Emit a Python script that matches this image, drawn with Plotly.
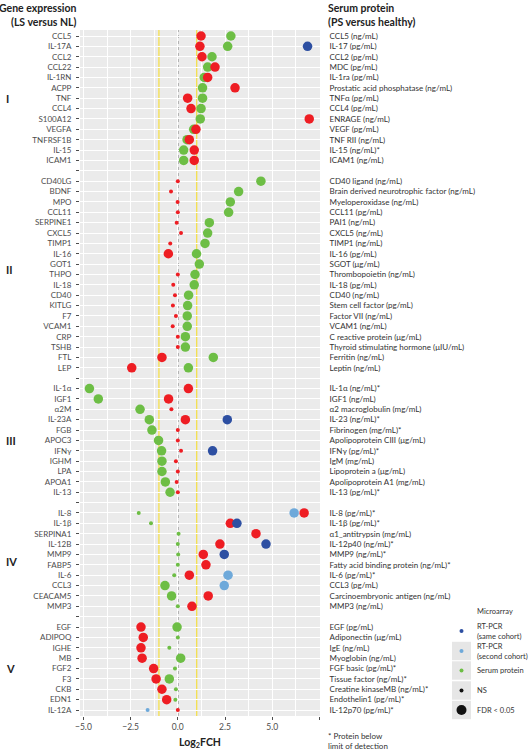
import plotly.graph_objects as go

# ---------------- data ----------------
gene_labels = [
    "CCL5", "IL-17A", "CCL2", "CCL22", "IL-1RN", "ACPP", "TNF", "CCL4", "S100A12", "VEGFA",
    "TNFRSF1B", "IL-15", "ICAM1", "",
    "CD40LG", "BDNF", "MPO", "CCL11", "SERPINE1", "CXCL5", "TIMP1", "IL-16", "GOT1", "THPO",
    "IL-18", "CD40", "KITLG", "F7", "VCAM1", "CRP", "TSHB", "FTL", "LEP", "",
    "IL-1α", "IGF1", "α2M", "IL-23A", "FGB", "APOC3", "IFNγ", "IGHM", "LPA", "APOA1", "IL-13", "",
    "IL-8", "IL-1β", "SERPINA1", "IL-12B", "MMP9", "FABP5", "IL-6", "CCL3", "CEACAM5", "MMP3", "",
    "EGF", "ADIPOQ", "IGHE", "MB", "FGF2", "F3", "CKB", "EDN1", "IL-12A",
]
protein_labels = [
    "CCL5 (ng/mL)", "IL-17 (pg/mL)", "CCL2 (pg/mL)", "MDC (pg/mL)", "IL-1ra (pg/mL)",
    "Prostatic acid phosphatase (ng/mL)", "TNFα (pg/mL)", "CCL4 (pg/mL)", "ENRAGE (ng/mL)",
    "VEGF (pg/mL)", "TNF RII (ng/mL)", "IL-15 (ng/mL)*", "ICAM1 (ng/mL)", "",
    "CD40 ligand (ng/mL)", "Brain derived neurotrophic factor (ng/mL)", "Myeloperoxidase (ng/mL)",
    "CCL11 (pg/mL)", "PAI1 (ng/mL)", "CXCL5 (ng/mL)", "TIMP1 (ng/mL)", "IL-16 (pg/mL)",
    "SGOT (μg/mL)", "Thrombopoietin (ng/mL)", "IL-18 (pg/mL)", "CD40 (ng/mL)",
    "Stem cell factor (pg/mL)", "Factor VII (ng/mL)", "VCAM1 (ng/mL)", "C reactive protein (μg/mL)",
    "Thyroid stimulating hormone (μIU/mL)", "Ferritin (ng/mL)", "Leptin (ng/mL)", "",
    "IL-1α (ng/mL)*", "IGF1 (ng/mL)", "α2 macroglobulin (mg/mL)", "IL-23 (ng/mL)*",
    "Fibrinogen (mg/mL)*", "Apolipoprotein CIII (μg/mL)", "IFNγ (pg/mL)*", "IgM (mg/mL)",
    "Lipoprotein a (μg/mL)", "Apolipoprotein A1 (mg/mL)", "IL-13 (pg/mL)*", "",
    "IL-8 (pg/mL)*", "IL-1β (pg/mL)*", "α1_antitrypsin (mg/mL)", "IL-12p40 (ng/mL)*",
    "MMP9 (ng/mL)*", "Fatty acid binding protein (ng/mL)*", "IL-6 (pg/mL)*", "CCL3 (pg/mL)",
    "Carcinoembryonic antigen (ng/mL)", "MMP3 (ng/mL)", "",
    "EGF (pg/mL)", "Adiponectin (μg/mL)", "IgE (ng/mL)", "Myoglobin (ng/mL)", "FGF basic (pg/mL)*",
    "Tissue factor (ng/mL)*", "Creatine kinaseMB (ng/mL)*", "Endothelin1 (pg/mL)*", "IL-12p70 (pg/mL)*",
]
N = None
microarray_fc = [
    1.23, 1.17, 1.28, 1.97, 1.58, 3.03, 0.52, 0.70, 6.96, 0.96, 0.61, 0.87, 0.87, N,
    0.0, -0.36, -0.01, 0.0, -0.06, 0.17, -0.40, -0.50, N, 0.0, -0.24, -0.15, -0.26, -0.10, -0.27,
    0.0, 0.0, -0.84, -2.44, N,
    0.56, -0.49, -0.34, 0.40, 0.0, 0.0, 0.17, -0.10, 0.0, -0.06, 0.0, N,
    6.69, 2.78, 4.14, 2.23, 1.35, 1.49, 0.61, N, 1.61, 0.75, N,
    -1.95, -1.83, -1.95, -1.89, -1.28, -1.15, -0.84, -0.59, 0.0,
]
microarray_sig = [
    1, 1, 1, 1, 1, 1, 1, 1, 1, 1, 1, 1, 1, 0,
    0, 0, 0, 0, 0, 0, 0, 1, 0, 0, 0, 0, 0, 0, 0, 0, 0, 1, 1, 0,
    1, 1, 0, 1, 0, 0, 0, 0, 0, 0, 0, 0,
    1, 1, 1, 1, 1, 1, 1, 0, 1, 1, 0,
    1, 1, 1, 1, 1, 1, 1, 1, 0,
]
serum_fc = [
    2.81, 2.64, 1.81, 1.58, 1.40, 1.31, 1.31, 1.23, 1.19, 0.84, 0.49, 0.31, 0.31, N,
    4.40, 3.22, 2.78, 2.69, 1.67, 1.58, 1.44, 0.99, 1.14, 0.91, 0.87, 0.57, 0.52, 0.50, 0.50,
    0.40, 0.40, 1.88, 0.56, N,
    -4.68, -4.21, -2.00, -1.51, -1.37, -1.02, -0.86, -0.84, -0.84, -0.66, -0.41, N,
    -2.07, -1.42, 0.04, 0.0, 0.02, 0.0, -0.19, -0.68, -0.33, 0.0, N,
    -0.04, 0.0, -0.45, 0.15, -0.15, -0.45, -0.10, -0.13, N,
]
serum_sig = [
    1, 1, 1, 1, 1, 1, 1, 1, 1, 1, 1, 1, 1, 0,
    1, 1, 1, 1, 1, 1, 1, 1, 1, 1, 1, 1, 1, 1, 1, 1, 1, 1, 1, 0,
    1, 1, 1, 1, 1, 1, 1, 1, 1, 1, 1, 0,
    0, 0, 0, 0, 0, 0, 0, 1, 1, 0, 0,
    1, 0, 0, 1, 0, 1, 0, 0, 0,
]
# RT-PCR values (sparse, by gene)
rtpcr_same_genes = ["IL-17A", "IL-23A", "IFNγ", "IL-1β", "IL-12B", "MMP9"]
rtpcr_same_fc = [6.87, 2.62, 1.84, 3.13, 4.67, 2.46]
rtpcr_same_sig = [1, 1, 1, 1, 1, 1]
rtpcr_second_genes = ["IL-8", "IL-6", "CCL3", "IL-12A"]
rtpcr_second_fc = [6.16, 2.66, 2.46, -1.60]
rtpcr_second_sig = [1, 1, 1, 0]

group_names = ["I", "II", "III", "IV", "V"]
group_rows = [6, 22.5, 39, 50.7, 61]

x_ticks = [-5, -2.5, 0, 2.5, 5, 7.5]
x_ticklabels = ["−5.0", "−2.5", "0.0", "2.5", "5.0", ""]

# ---------------- style ----------------
RED = "#EE1D23"
BLUE = "#2D4FA2"
LBLUE = "#6EA9DA"
GREEN = "#6DBE45"
YELLOW = "#F4E04D"
BIG, SMALL = 9.5, 4
FONT = "Lato"

W, H = 529, 750
PL, PR, PT, PB = 80, 320, 30, 716  # plot area in pixels

rows = list(range(len(gene_labels)))
row_of = {g: i for i, g in enumerate(gene_labels) if g}


def sizes(sig):
    return [BIG if s else SMALL for s in sig]


def mk(color, sig):
    return dict(color=color, size=sizes(sig), opacity=1, line=dict(width=0))


fig = go.Figure()

fig.add_trace(go.Scatter(x=serum_fc, y=rows, mode="markers", marker=mk(GREEN, serum_sig),
                         opacity=1, name="Serum protein", hoverinfo="skip"))
fig.add_trace(go.Scatter(x=microarray_fc, y=rows, mode="markers", marker=mk(RED, microarray_sig),
                         opacity=1, name="Microarray", hoverinfo="skip"))
fig.add_trace(go.Scatter(x=rtpcr_second_fc, y=[row_of[g] for g in rtpcr_second_genes],
                         mode="markers", marker=mk(LBLUE, rtpcr_second_sig), opacity=1,
                         name="RT-PCR (second cohort)", hoverinfo="skip"))
fig.add_trace(go.Scatter(x=rtpcr_same_fc, y=[row_of[g] for g in rtpcr_same_genes],
                         mode="markers", marker=mk(BLUE, rtpcr_same_sig), opacity=1,
                         name="RT-PCR (same cohort)", hoverinfo="skip"))
# invisible trace anchoring the right-hand axis
fig.add_trace(go.Scatter(x=[0] * len(rows), y=rows, yaxis="y2", mode="markers",
                         marker=dict(opacity=0, size=1), hoverinfo="skip", showlegend=False))

yrange = [65 + 6 / 10.369, -6 / 10.369]

# reference lines
fig.add_vline(x=-1, line=dict(color=YELLOW, width=1.3), layer="below")
fig.add_vline(x=1, line=dict(color=YELLOW, width=1.3), layer="below")
fig.add_vline(x=0, line=dict(color="#333333", width=1, dash="3px,3px"), layer="below")


def px_x(p):
    return (p - PL) / (PR - PL)


def px_y(p):
    return (PB - p) / (PB - PT)


annos = []
annos.append(dict(text="<b>Gene expression<br>(LS versus NL)</b>", x=px_x(79), y=px_y(0),
                  xref="paper", yref="paper", xanchor="right", yanchor="top", align="right",
                  showarrow=False, font=dict(size=10.5, color="#222", family=FONT)))
annos.append(dict(text="<b>Serum protein<br>(PS versus healthy)</b>", x=px_x(326), y=px_y(0),
                  xref="paper", yref="paper", xanchor="left", yanchor="top", align="left",
                  showarrow=False, font=dict(size=10.5, color="#222", family=FONT)))
for gname, gr in zip(group_names, group_rows):
    annos.append(dict(text="<b>%s</b>" % gname, x=px_x(4), y=gr, xref="paper", yref="y",
                      xanchor="left", yanchor="middle", showarrow=False,
                      font=dict(size=11, color="#222", family=FONT)))
annos.append(dict(text="* Protein below<br>limit of detection", x=px_x(326), y=px_y(729),
                  xref="paper", yref="paper", xanchor="left", yanchor="top", align="left",
                  showarrow=False, font=dict(size=8, color="#333", family=FONT)))

shapes = []
legend_items = [
    ("Microarray", RED, 4, 611.5),
    ("RT-PCR<br>(same cohort)", BLUE, 4, 631),
    ("RT-PCR<br>(second cohort)", LBLUE, 4, 651),
    ("Serum protein", GREEN, 4, 670.5),
    ("NS", "#111111", 4, 690.5),
    ("FDR < 0.05", "#111111", 10, 710),
]
for label, col, sz, cy in legend_items:
    shapes.append(dict(type="rect", xref="paper", yref="paper",
                       x0=px_x(452), x1=px_x(471), y0=px_y(cy + 9.2), y1=px_y(cy - 9.2),
                       fillcolor="#E6E6E6", line=dict(width=0), layer="above"))
    shapes.append(dict(type="circle", xref="paper", yref="paper",
                       xsizemode="pixel", ysizemode="pixel",
                       xanchor=px_x(461.5), yanchor=px_y(cy),
                       x0=-sz / 2, x1=sz / 2, y0=-sz / 2, y1=sz / 2,
                       fillcolor=col, line=dict(width=0), layer="above"))
    annos.append(dict(text=label, x=px_x(475), y=px_y(cy), xref="paper", yref="paper",
                      xanchor="left", yanchor="middle", align="left", showarrow=False,
                      font=dict(size=7.5, color="#333", family=FONT)))

fig.update_layout(
    width=W, height=H, autosize=False,
    margin=dict(l=PL, r=W - PR, t=PT, b=H - PB, pad=0, autoexpand=False),
    paper_bgcolor="white", plot_bgcolor="#EBEBEB",
    showlegend=False,
    font=dict(family=FONT, size=8, color="#4D4D4D"),
    xaxis=dict(range=[-5.18, 7.53], tickmode="array", tickvals=x_ticks, ticktext=x_ticklabels,
               automargin=False,
               showgrid=True, gridcolor="white", gridwidth=1.1, zeroline=False,
               minor=dict(tickvals=[-3.75, -1.25, 1.25, 3.75, 6.25], showgrid=True,
                          gridcolor="white", gridwidth=0.5, ticks=""),
               ticks="outside", ticklen=3, tickcolor="#4D4D4D", tickwidth=0.8,
               tickfont=dict(size=8.5, color="#4D4D4D", family=FONT),
               title=dict(text="<b>Log<sub>2</sub>FCH</b>", standoff=8,
                          font=dict(size=10.5, color="#222", family=FONT)),
               showline=False),
    yaxis=dict(range=yrange, tickmode="array", tickvals=rows, ticktext=gene_labels,
               automargin=False,
               showgrid=True, gridcolor="white", gridwidth=1, zeroline=False,
               ticks="outside", ticklen=3, tickcolor="#4D4D4D", tickwidth=0.8,
               ticklabelstandoff=3,
               tickfont=dict(size=8, color="#4D4D4D", family=FONT), showline=False),
    yaxis2=dict(range=yrange, overlaying="y", side="right", anchor="x",
                automargin=False,
                tickmode="array", tickvals=rows, ticktext=protein_labels,
                showgrid=False, zeroline=False, ticks="outside", ticklen=4,
                tickcolor="rgba(0,0,0,0)", ticklabelstandoff=3,
                tickfont=dict(size=8, color="#333333", family=FONT), showline=False),
    annotations=annos,
    shapes=shapes,
)

fig.write_html("out.html", config={"displayModeBar": False},
               post_script="document.body.style.margin='0';")
